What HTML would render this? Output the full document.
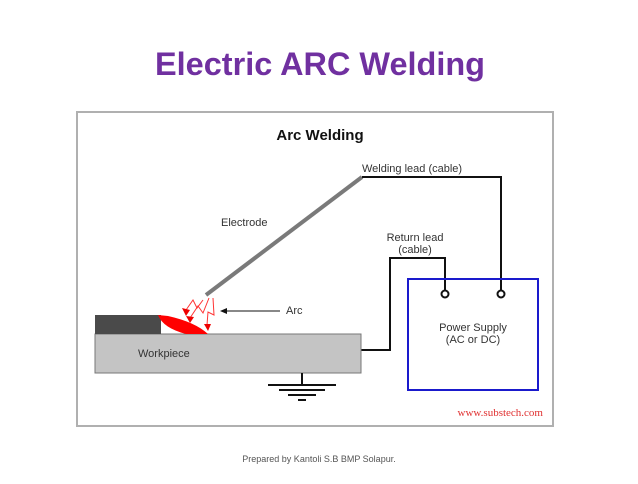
<!DOCTYPE html>
<html><head><style>
body{margin:0;width:638px;height:479px;background:#fff;overflow:hidden;font-family:"Liberation Sans",sans-serif}
</style></head><body>
<svg width="638" height="479" xmlns="http://www.w3.org/2000/svg" font-family="Liberation Sans, sans-serif">
<text x="320" y="75" text-anchor="middle" font-size="32" font-weight="bold" fill="#7030a0" textLength="330" lengthAdjust="spacingAndGlyphs">Electric ARC Welding</text>
<rect x="77" y="112" width="476" height="314" fill="#fff" stroke="#b0b0b0" stroke-width="2"/>
<text x="320" y="140" text-anchor="middle" font-size="15" font-weight="bold" fill="#111">Arc Welding</text>
<line x1="206" y1="295" x2="362" y2="177" stroke="#7a7a7a" stroke-width="4"/>
<polyline points="362,177 501,177 501,293" fill="none" stroke="#111" stroke-width="2"/>
<polyline points="360,350 390,350 390,258 445,258 445,293" fill="none" stroke="#111" stroke-width="2"/>
<rect x="408" y="279" width="130" height="111" fill="none" stroke="#1a1acc" stroke-width="2"/>
<circle cx="445" cy="294" r="3.5" fill="#fff" stroke="#111" stroke-width="2"/>
<circle cx="501" cy="294" r="3.5" fill="#fff" stroke="#111" stroke-width="2"/>
<rect x="95" y="334" width="266" height="39" fill="#c4c4c4" stroke="#777" stroke-width="1"/>
<rect x="95" y="315" width="66" height="19" fill="#4a4a4a"/>
<path d="M158,315 L168,316 Q195,322 208,334 L186,334 Q163,328 158,315 Z" fill="#f00"/>
<g stroke="#f33" stroke-width="1" fill="none">
<polyline points="203,300 197,308 193,300 186,310"/>
<polyline points="209,298 203,313 198,306 190,318"/>
<polyline points="213,298 214,315 208,312 207,325"/>
</g>
<g fill="#e00"><polygon points="182,308 186,316 190,310"/><polygon points="186,316 190,323 194,317"/><polygon points="204,324 208,331 211,324"/></g>
<line x1="222" y1="311" x2="280" y2="311" stroke="#111" stroke-width="1"/>
<polygon points="220,311 227,308 227,314" fill="#111"/>
<line x1="302" y1="373" x2="302" y2="385" stroke="#111" stroke-width="2"/>
<g stroke="#111" stroke-width="2"><line x1="268" y1="385" x2="336" y2="385"/><line x1="279" y1="390" x2="325" y2="390"/><line x1="288" y1="395" x2="316" y2="395"/><line x1="298" y1="400" x2="306" y2="400"/></g>
<g font-size="11" fill="#333">
<text x="362" y="172">Welding lead (cable)</text>
<text x="221" y="226">Electrode</text>
<text x="415" y="241" text-anchor="middle">Return lead</text>
<text x="415" y="253" text-anchor="middle">(cable)</text>
<text x="286" y="314">Arc</text>
<text x="473" y="331" text-anchor="middle">Power Supply</text>
<text x="473" y="343" text-anchor="middle">(AC or DC)</text>
<text x="138" y="357">Workpiece</text>
</g>
<text x="543" y="416" text-anchor="end" font-family="Liberation Serif, serif" font-size="11" fill="#e03030">www.substech.com</text>
<text x="319" y="462" text-anchor="middle" font-size="9" fill="#555">Prepared by Kantoli S.B BMP Solapur.</text>
</svg>
</body></html>
